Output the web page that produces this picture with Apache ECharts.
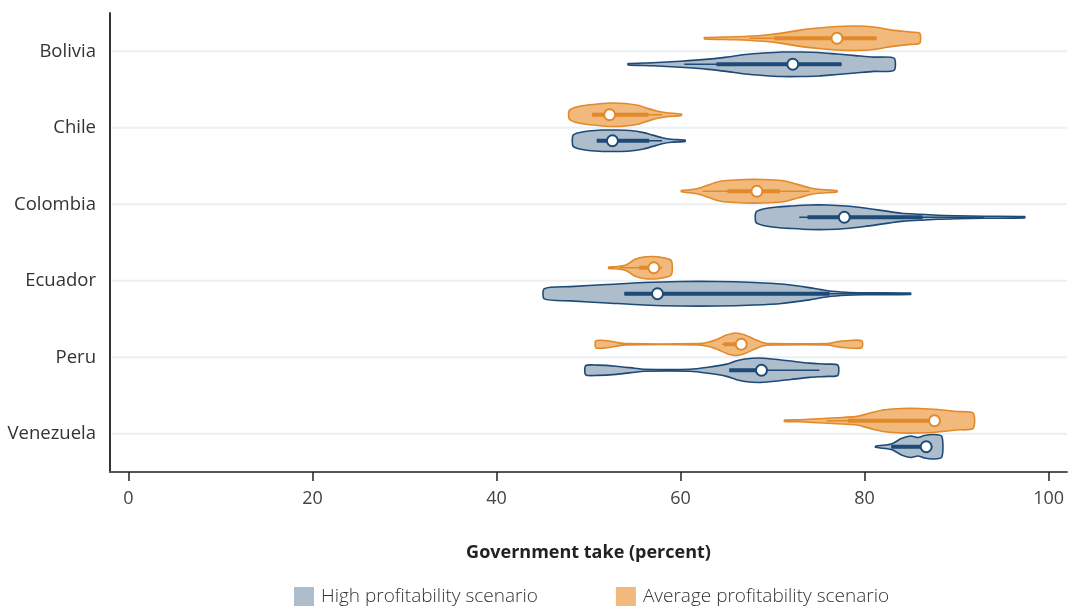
<!DOCTYPE html>
<html>
<head>
<meta charset="utf-8">
<script src="https://cdn.jsdelivr.net/npm/echarts@6/dist/echarts.min.js"></script>
<style>html,body{margin:0;padding:0;background:#fff}#c{width:1069px;height:613px}</style>
</head>
<body>
<div id="c"></div>
<script>
// Categories (top to bottom)
const countries = ['Bolivia', 'Chile', 'Colombia', 'Ecuador', 'Peru', 'Venezuela'];
const xTicks = [0, 20, 40, 60, 80, 100];

// Violin density profiles: [government take %, relative density (0-12)]
const avgBolivia = [[62.6,0],[66,1.5],[69,3],[71,5],[73,8],[75,10],[77,11.5],[79,12],[81,11],[83,8],[85,6],[86,5]];
const highBolivia = [[54.3,0],[57,1.5],[60,3],[63,5],[65,7],[67,9.5],[69,11],[71,12],[73,12],[75,11.5],[77,10],[79,8.5],[81,7],[83.2,6]];
const avgChile = [[47.9,4],[48.5,7],[49.5,9],[51,10.5],[52.5,11.5],[54,11],[55.5,9],[56.5,6],[57.5,3.5],[58.5,2],[60.1,0]];
const highChile = [[48.3,5],[48.8,7.5],[50,9.5],[51.5,10.5],[53,10.5],[54.5,10],[56,8],[57,5.5],[58,3],[59,1.5],[60.5,0]];
const avgColombia = [[60.1,0],[61,1.5],[62,3],[63,6],[64,9],[65,10.5],[67,11.5],[69,11.5],[71,10.5],[72,8.5],[73,6],[74,3.5],[75,2],[77,0]];
const highColombia = [[68.2,5],[69,8],[70.5,10],[72,11],[74,12],[76,12],[78,11],[80,9],[82,6.5],[84,4],[86,3],[88,2],[90,1.5],[93,1],[97.4,0]];
const avgEcuador = [[52.2,0],[53,1],[54,2.5],[54.5,5],[55,8],[56,10.5],[57,11],[58,10],[59,7]];
const highEcuador = [[45.2,5],[48,7],[52,9],[56,11],[60,12],[64,12],[68,11],[71,9.5],[74,6],[76,3],[78,1.5],[80,1],[85,0]];
const avgPeru = [[50.8,3.5],[52,3.5],[53,2],[54,0.6],[62,0.6],[63,2],[64,5],[65,9],[66,11],[67,9],[68,5],[69,1.5],[70,0.6],[76,0.6],[77,2.5],[78,3.5],[79.7,3.5]];
const highPeru = [[49.7,4.5],[51,5],[53,4],[55,2],[56,1],[61,1],[63,3],[65,6],[66,9],[67,11],[68.5,12],[70,11],[72,9],[74,7],[76,6],[77.1,5]];
const avgVenezuela = [[71.3,0],[73,1],[75,2],[77,3],[79,4],[80,6],[81,8.5],[82,10.5],[84,12],[86,12],[88,11],[90,9],[91.8,7.5]];
const highVenezuela = [[81.2,0],[82,1.5],[83,3],[84,8],[85,10.5],[85.8,9],[86.5,11],[87.5,12],[88.4,10]];

// Box stats: [lower whisker, q1, median, q3, upper whisker]
const avgStats = [[67.5,70.2,77,81.3,81.3],[50.4,50.4,52.3,56.5,58],[62.4,65.1,68.3,70.8,74],[53.4,55.5,57.1,57.8,58],[64.5,64.7,66.6,67,67],[75.9,78.2,87.6,87.8,87.8]];
const highStats = [[60.4,63.9,72.2,77.5,77.5],[50.9,50.9,52.6,56.6,58],[72.9,73.8,77.8,86.3,93],[53.9,53.9,57.5,76.2,85],[65.3,65.3,68.8,69,75.1],[82.9,82.9,86.7,86.8,86.8]];

const avgProfiles = [avgBolivia, avgChile, avgColombia, avgEcuador, avgPeru, avgVenezuela];
const highProfiles = [highBolivia, highChile, highColombia, highEcuador, highPeru, highVenezuela];

const BLUE_FILL = '#adbdcc', BLUE_LINE = '#1d4a77';
const ORANGE_FILL = '#f1b97b', ORANGE_LINE = '#e2892a';

function makeRender(profiles, stats, side, fill, stroke) {
  return function (params, api) {
    const ci = api.value(0);
    const c = api.coord([0, ci]);
    const band = api.size([0, 1])[1];
    const cy = c[1] + side * 0.17 * band;
    const scale = 0.16 * band / 12;
    const prof = profiles[ci];
    const top = [], bot = [];
    prof.forEach(p => {
      const x = api.coord([p[0], ci])[0];
      const h = Math.max(p[1] * scale, 0.6);
      top.push([x, cy - h]);
      bot.unshift([x, cy + h]);
    });
    const pts = top.concat(bot);
    const s = stats[ci];
    const xs = s.map(v => api.coord([v, ci])[0]);
    return {
      type: 'group',
      children: [
        { type: 'polygon', shape: { points: pts, smooth: 0.25 }, style: { fill: fill, stroke: stroke, lineWidth: 1.6 } },
        { type: 'line', shape: { x1: xs[0], y1: cy, x2: xs[4], y2: cy }, style: { stroke: stroke, lineWidth: 1.5 } },
        { type: 'line', shape: { x1: xs[1], y1: cy, x2: xs[3], y2: cy }, style: { stroke: stroke, lineWidth: 4 } },
        { type: 'circle', shape: { cx: xs[2], cy: cy, r: 5.5 }, style: { fill: '#fff', stroke: stroke, lineWidth: 2 } }
      ]
    };
  };
}

const catData = countries.map((c, i) => [i]);

const chart = echarts.init(document.getElementById('c'), null, { renderer: 'canvas' });
chart.setOption({
  animation: false,
  textStyle: { fontFamily: 'Open Sans' },
  grid: { left: 110, right: 2, top: 13, bottom: 141, containLabel: false },
  legend: {
    bottom: 2, left: 289, itemWidth: 20, itemHeight: 19, itemGap: 78, icon: 'rect',
    textStyle: { fontSize: 19, color: '#333', fontFamily: 'Open Sans', fontWeight: 300, padding: [0, 0, 0, 2] },
    data: ['High profitability scenario', 'Average profitability scenario']
  },
  xAxis: {
    type: 'value', min: -2, max: 102,
    name: 'Government take (percent)', nameLocation: 'middle', nameGap: 72,
    nameTextStyle: { fontSize: 18, fontWeight: 'bold', color: '#222' },
    axisLine: { show: true, onZero: false, lineStyle: { color: '#555', width: 2 } },
    axisTick: { show: true, length: 9, lineStyle: { color: '#222', width: 1.5 }, customValues: xTicks },
    axisLabel: { fontSize: 18, color: '#444', margin: 18, customValues: xTicks },
    splitLine: { show: false }
  },
  yAxis: {
    type: 'category', data: countries, inverse: true,
    axisLine: { show: true, onZero: false, lineStyle: { color: '#333', width: 2 } },
    axisTick: { show: false },
    axisLabel: { fontSize: 18.5, color: '#333', margin: 14 },
    splitLine: { show: false }
  },
  series: [
    {
      type: 'custom', name: 'grid', silent: true, z: 1,
      renderItem: function (params, api) {
        const ci = api.value(0);
        const a = api.coord([-2, ci]);
        const b = api.coord([102, ci]);
        return { type: 'line', shape: { x1: a[0] + 2, y1: a[1], x2: b[0], y2: b[1] }, style: { stroke: '#eaf0f4', lineWidth: 2 } };
      },
      data: catData
    },
    {
      type: 'custom', name: 'High profitability scenario', z: 3,
      itemStyle: { color: BLUE_FILL },
      renderItem: makeRender(highProfiles, highStats, 1, BLUE_FILL, BLUE_LINE),
      data: catData
    },
    {
      type: 'custom', name: 'Average profitability scenario', z: 3,
      itemStyle: { color: ORANGE_FILL },
      renderItem: makeRender(avgProfiles, avgStats, -1, ORANGE_FILL, ORANGE_LINE),
      data: catData
    }
  ]
});
</script>
</body>
</html>
